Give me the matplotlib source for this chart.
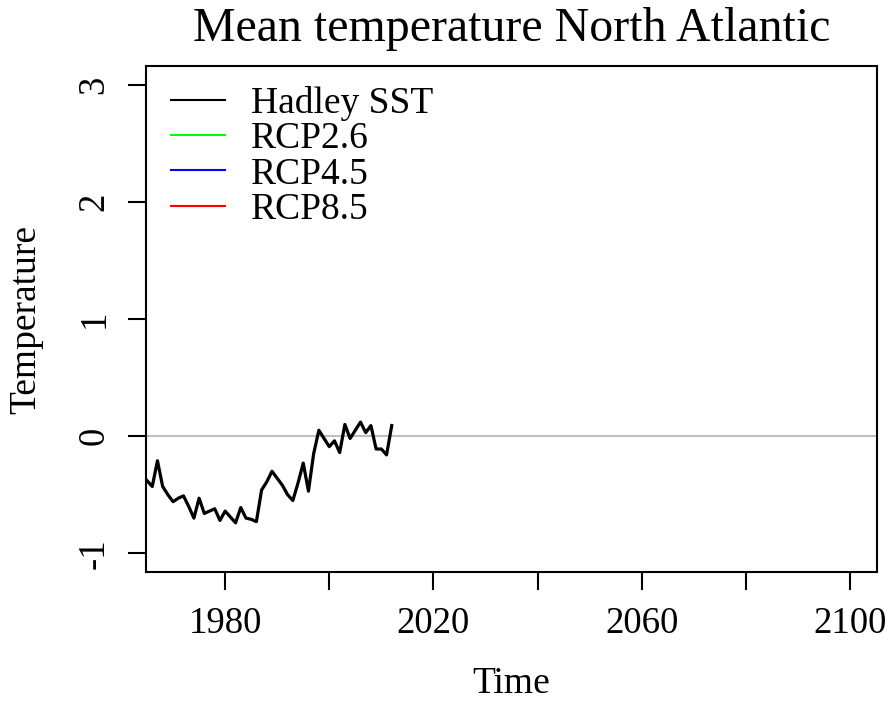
import matplotlib
matplotlib.use("Agg")
import matplotlib.pyplot as plt

plt.rcParams['font.family'] = ['Liberation Serif', 'DejaVu Serif']

years = list(range(1964, 2013))
hadley_sst = [-0.33, -0.38, -0.43, -0.21, -0.43, -0.50, -0.56, -0.53, -0.51, -0.60,
              -0.70, -0.53, -0.66, -0.64, -0.62, -0.72, -0.64, -0.69, -0.74, -0.61,
              -0.70, -0.71, -0.73, -0.46, -0.39, -0.30, -0.36, -0.42, -0.50, -0.55,
              -0.40, -0.23, -0.47, -0.15, 0.05, -0.02, -0.09, -0.04, -0.14, 0.10,
              -0.02, 0.05, 0.12, 0.03, 0.09, -0.11, -0.11, -0.16, 0.09]

legend_labels = ["Hadley SST", "RCP2.6", "RCP4.5", "RCP8.5"]
legend_colors = ["black", "#00FF00", "#0000FF", "#FF0000"]

xticks = [1980, 2000, 2020, 2040, 2060, 2080, 2100]
xticklabels = ["1980", "", "2020", "", "2060", "", "2100"]
yticks = [-1, 0, 1, 2, 3]
yticklabels = ["-1", "0", "1", "2", "3"]

fs = 27
fig = plt.figure(figsize=(8.89, 7.04), dpi=100)
ax = fig.add_axes([146/889, 1-572/704, (877-146)/889, (572-66)/704])

ax.axhline(0, color="#BEBEBE", lw=1.5, zorder=1)
ax.plot(years, hadley_sst, color="black", lw=2.3, zorder=3)

handles = []
for lab, col in zip(legend_labels, legend_colors):
    h, = ax.plot([], [], color=col, lw=1.5, label=lab)
    handles.append(h)
leg = ax.legend(handles=handles, loc="upper left", frameon=False, fontsize=fs,
                handlelength=1.45, handletextpad=0.7, labelspacing=0.02,
                borderaxespad=0.0, bbox_to_anchor=(0.013, 0.99))

ax.set_xlim(1964.8, 2105.2)
ax.set_ylim(-1.16, 3.16)
ax.set_xticks(xticks)
ax.set_xticklabels(xticklabels, fontsize=26.5)
ax.set_yticks(yticks)
ax.set_yticklabels(yticklabels, fontsize=26.5, rotation=90, va="center")
ax.tick_params(direction="out", length=13, width=1.5, pad=12)
for s in ax.spines.values():
    s.set_linewidth(1.5)

ax.set_xlabel("Time", fontsize=fs, labelpad=18)
ax.set_ylabel("Temperature", fontsize=fs, labelpad=24)
ax.set_title("Mean temperature North Atlantic", fontsize=34.5, pad=18)

fig.savefig("out.png", dpi=100)
